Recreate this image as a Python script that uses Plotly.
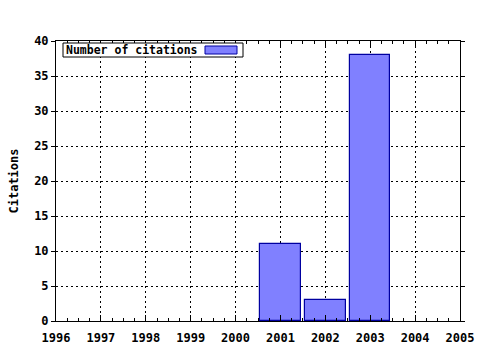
import plotly.graph_objects as go

years = [2001, 2002, 2003]
citations = [11, 3, 38]
x_ticks = list(range(1996, 2006))
y_ticks = list(range(0, 41, 5))
series_name = "Number of citations"

W, H = 480, 350
L, R, T, B = 56, 20, 41, 29

FONT = dict(family="DejaVu Sans Mono", size=12, color="black", weight="bold")

fig = go.Figure()
fig.add_trace(go.Bar(
    x=years, y=citations, width=0.9, name=series_name,
    marker=dict(color="#8080ff", line=dict(color="#0000a0", width=1.2)),
    showlegend=False,
))

fig.update_layout(
    width=W, height=H,
    margin=dict(l=L, r=R, t=T, b=B, autoexpand=False),
    paper_bgcolor="white", plot_bgcolor="white",
    font=FONT,
    bargap=0,
    xaxis=dict(
        range=[1996, 2005], tickvals=x_ticks, ticktext=[str(v) for v in x_ticks],
        showgrid=True, gridcolor="black", griddash="2px,3px", gridwidth=1,
        showline=True, linecolor="black", linewidth=1, mirror="ticks",
        ticks="inside", ticklen=6, tickcolor="black", ticklabelstandoff=6,
        minor=dict(dtick=0.25, ticks="inside", ticklen=3, tickcolor="black", showgrid=False),
        zeroline=False, tickfont=FONT, automargin=False,
    ),
    yaxis=dict(
        range=[0, 40], tickvals=y_ticks,
        showgrid=True, gridcolor="black", griddash="2px,3px", gridwidth=1,
        showline=True, linecolor="black", linewidth=1, mirror="ticks",
        ticks="outside", ticklen=4, tickcolor="black",
        zeroline=False, tickfont=FONT, automargin=False,
        title=dict(text="Citations", font=FONT, standoff=12),
    ),
)

pw = W - L - R
ph = H - T - B
def px(x):
    return (x - L) / pw
def py(y):
    return 1 - (y - T) / ph

fig.add_shape(type="rect", xref="paper", yref="paper",
              x0=px(63), x1=px(243), y0=py(57), y1=py(43),
              line=dict(color="black", width=1), fillcolor="white", layer="above")
fig.add_shape(type="rect", xref="paper", yref="paper",
              x0=px(205), x1=px(237), y0=py(54), y1=py(46),
              line=dict(color="#0000a0", width=1), fillcolor="#8080ff", layer="above")
fig.add_annotation(text=series_name, xref="paper", yref="paper",
                   x=px(64), y=py(50), xanchor="left", yanchor="middle",
                   showarrow=False, font=dict(FONT, size=11.5))

fig.write_html("out.html")
